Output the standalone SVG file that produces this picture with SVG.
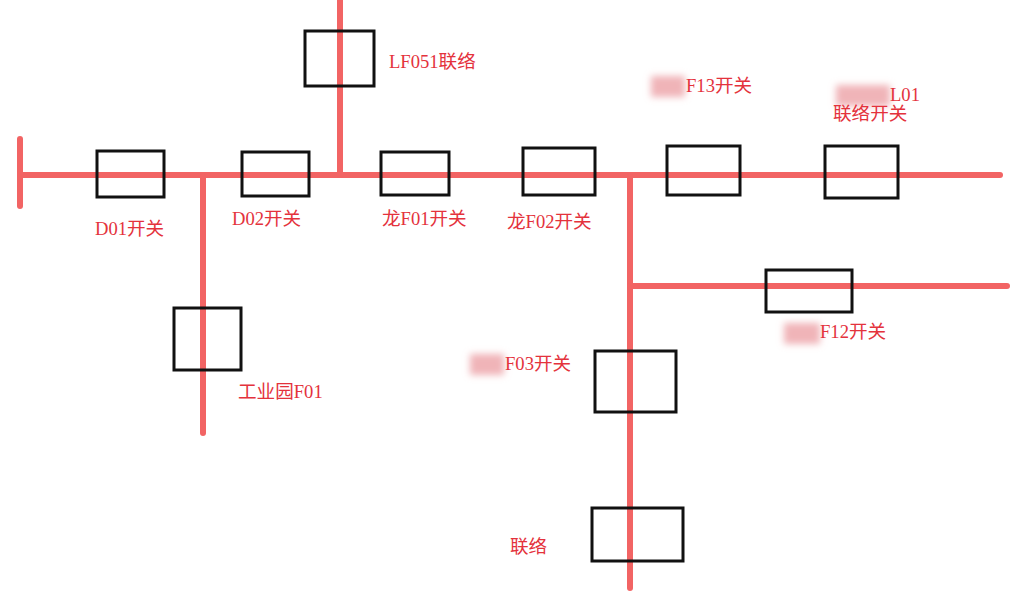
<svg xmlns="http://www.w3.org/2000/svg" width="1018" height="596" viewBox="0 0 1018 596">
<defs>
<style>
.ln{stroke:#f26464;stroke-width:6;stroke-linecap:round;fill:none}
.bx{fill:none;stroke:#111;stroke-width:3}
.lb{fill:#e4323c;font-family:"Liberation Serif","Noto Sans CJK SC",serif;font-size:18.6px}
.bl{fill:#f0b4b8}
</style>
<filter id="blur" x="-30%" y="-60%" width="160%" height="220%"><feGaussianBlur stdDeviation="3.5"/></filter>
</defs>
<rect width="1018" height="596" fill="#fff"/>
<g id="connectors">
<line class="ln" x1="20" y1="175" x2="1000" y2="175"/>
<line class="ln" x1="20" y1="139" x2="20" y2="206"/>
<line class="ln" x1="340" y1="0" x2="340" y2="175"/>
<line class="ln" x1="203" y1="177" x2="203" y2="433"/>
<line class="ln" x1="630" y1="177" x2="630" y2="588"/>
<line class="ln" x1="630" y1="286" x2="1007" y2="286"/>
</g>
<g id="blurred" filter="url(#blur)">
<rect class="bl" x="651" y="76" width="34" height="21"/>
<rect class="bl" x="836" y="85" width="54" height="21"/>
<rect class="bl" x="784" y="323" width="36" height="21"/>
<rect class="bl" x="470" y="354" width="34" height="21"/>
</g>
<g id="D01"><rect class="bx" x="97" y="151" width="67" height="46"/><text class="lb" x="95" y="235">D01开关</text></g>
<g id="D02"><rect class="bx" x="242" y="152" width="67" height="44"/><text class="lb" x="232" y="225">D02开关</text></g>
<g id="LF051"><rect class="bx" x="305" y="31" width="69" height="55"/><text class="lb" x="389" y="68">LF051联络</text></g>
<g id="LF01"><rect class="bx" x="381" y="152" width="68" height="43"/><text class="lb" x="382" y="225">龙F01开关</text></g>
<g id="LF02"><rect class="bx" x="523" y="148" width="72" height="47"/><text class="lb" x="507" y="228">龙F02开关</text></g>
<g id="F13"><rect class="bx" x="667" y="146" width="73" height="49"/><text class="lb" x="686" y="92">F13开关</text></g>
<g id="L01"><rect class="bx" x="825" y="146" width="73" height="52"/><text class="lb" x="890" y="101">L01</text><text class="lb" x="833" y="120">联络开关</text></g>
<g id="F12"><rect class="bx" x="766" y="270" width="86" height="42"/><text class="lb" x="820" y="338">F12开关</text></g>
<g id="GYY"><rect class="bx" x="174" y="308" width="67" height="62"/><text class="lb" x="238" y="398">工业园F01</text></g>
<g id="F03"><rect class="bx" x="595" y="351" width="81" height="61"/><text class="lb" x="505" y="370">F03开关</text></g>
<g id="LL"><rect class="bx" x="592" y="508" width="91" height="53"/><text class="lb" x="510" y="553">联络</text></g>
</svg>
